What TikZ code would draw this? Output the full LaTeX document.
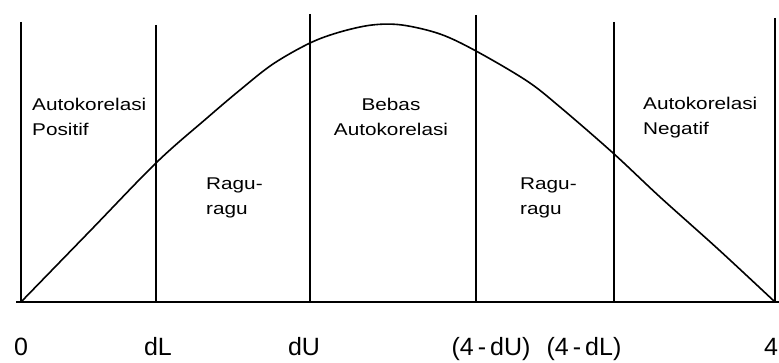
\documentclass[tikz,border=0pt]{standalone}
\usepackage{fontspec}
\usepackage{graphicx}
\setmainfont{Liberation Sans}
\newcommand{\lebar}[1]{\scalebox{1.22}[1]{#1}}
\usetikzlibrary{positioning}

\begin{document}
\begin{tikzpicture}[x=1pt, y=-1pt,
    batas/.style={black, line width=2pt},
    kurva/.style={black, line width=1.6pt},
    zona/.style={font=\fontsize{17}{25}\selectfont, inner sep=0pt},
    skala/.style={font=\fontsize{25}{30}\selectfont, inner sep=0pt, anchor=base}]
        \useasboundingbox (0,0) rectangle (779,363);
        % The axis and the region boundaries.
            \coordinate (sumbu-kiri) at (16,302);
            \coordinate (sumbu-kanan) at (779,302);
            \draw[batas] (sumbu-kiri) -- (sumbu-kanan);
            \foreach \nama/\xx/\yy in {nol/21/22, dl/156/25, du/310/14, udu/476/15, udl/614/22, empat/775/18}{
                \coordinate (\nama-atas) at (\xx,\yy);
                \coordinate (\nama-bawah) at (\xx,302);
                \draw[batas] (\nama-atas) -- (\nama-bawah);
            }
        % This draws the curve.
            \draw[kurva] plot[smooth, tension=0.55] coordinates {(nol-bawah) (90,231) (157,162) (207,118) (240,90) (273,64) (310,43) (340,32) (372,25) (402,25) (440,34) (476,51) (527,81) (560,107) (613,153) (660,197) (718,249) (empat-bawah)};
        % Below nodes are the labels.
            \node[zona, anchor=north west, align=left] (positif) at (32,98) {\lebar{Autokorelasi}\\\lebar{Positif}};
            \node[zona, anchor=north west, align=left] (ragu1) at (206,178) {\lebar{Ragu-}\\\lebar{ragu}};
            \node[zona, anchor=north, align=center] (bebas) at (391,98) {\lebar{Bebas}\\\lebar{Autokorelasi}};
            \node[zona, anchor=north west, align=left] (ragu2) at (520,178) {\lebar{Ragu-}\\\lebar{ragu}};
            \node[zona, anchor=north west, align=left] (negatif) at (643,97) {\lebar{Autokorelasi}\\\lebar{Negatif}};
        % Values on the axis.
            \node[skala] (t-nol) at (21,355) {0};
            \node[skala] (t-dl) at (158,355) {dL};
            \node[skala] (t-du) at (304,355) {dU};
            \node[skala] (t-udu) at (491,355) {(4\hspace{4pt}-\hspace{4pt}dU)};
            \node[skala] (t-udl) at (584,355) {(4\hspace{4pt}-\hspace{4pt}dL)};
            \node[skala] (t-empat) at (771,355) {4};
    \end{tikzpicture}
\end{document}
